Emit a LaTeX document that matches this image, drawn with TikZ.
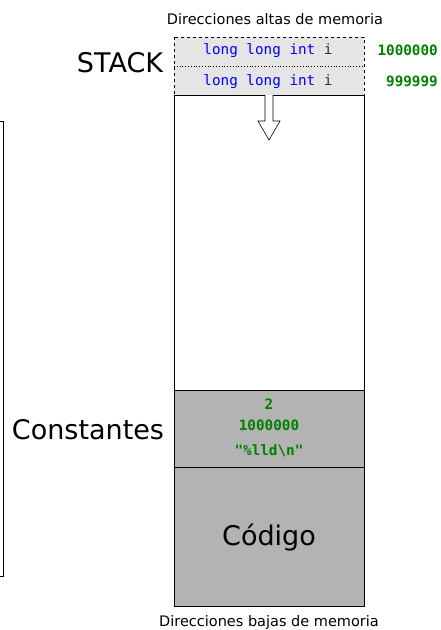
\documentclass[tikz,border=0pt]{standalone}
\usepackage{fontspec}
\setmainfont{DejaVu Sans}
\setmonofont{DejaVu Sans Mono}
\definecolor{stackgray}{HTML}{E5E5E5}
\definecolor{constgray}{HTML}{B3B3B3}
\definecolor{kwblue}{HTML}{0000FF}
\definecolor{numgreen}{HTML}{008000}
\definecolor{vargray}{HTML}{333333}
\begin{document}
\begin{tikzpicture}[x=1pt,y=-1pt,
  big/.style={font=\fontsize{27}{30}\selectfont, inner sep=0pt},
  small/.style={font=\fontsize{14.5}{16}\selectfont, inner sep=0pt},
  code/.style={font=\ttfamily\fontsize{14.3}{16}\selectfont, inner sep=0pt},
  num/.style={font=\ttfamily\bfseries\fontsize{14.3}{16}\selectfont, text=numgreen, inner sep=0pt},
  region/.style={draw=black, line width=1pt, inner sep=0pt}]
\useasboundingbox (0,0) rectangle (441,630);
% regions
\fill[stackgray] (174,37) rectangle (364,95);
\node[region, fill=white, minimum width=190pt, minimum height=295pt, anchor=north west] (free) at (174,95) {};
\node[region, fill=constgray, minimum width=190pt, minimum height=77pt, anchor=north west] (const) at (174,390) {};
\node[region, fill=constgray, minimum width=190pt, minimum height=139pt, anchor=north west] (codigo) at (174,467) {};
\draw[dashed, line width=0.8pt] (174,37) rectangle (364,95);
\draw[dotted, line width=0.8pt] (174,66) -- (364,66);
% stack contents
\node[code] (v1) at (268,50.5) {\textcolor{kwblue}{long long int} \textcolor{vargray}{i}};
\node[code] (v2) at (268,81.5) {\textcolor{kwblue}{long long int} \textcolor{vargray}{i}};
\node[num, anchor=east] (n1) at (438,50) {1000000};
\node[num, anchor=east] (n2) at (438,81) {999999};
% growth arrow
\draw[line width=0.6pt, fill=white] (265,95) -- (265,121) -- (258,121) -- (269,140) -- (280,121) -- (273,121) -- (273,95);
% constants
\node[num] (c1) at (269,404) {2};
\node[num] (c2) at (269,425) {1000000};
\node[num] (c3) at (269,451) {"\%lld\textbackslash n"};
% labels
\node[big] (stack) at (120,63) {STACK};
\node[big] (constl) at (88,430) {Constantes};
\node[big] (codl) at (269,538) {Código};
\node[small] (top) at (275,19) {Direcciones altas de memoria};
\node[small] (bot) at (269,622) {Direcciones bajas de memoria};
% left bracket
\draw[line width=1pt] (0,121) -- (3,121) -- (3,576) -- (0,576);
\end{tikzpicture}
\end{document}
